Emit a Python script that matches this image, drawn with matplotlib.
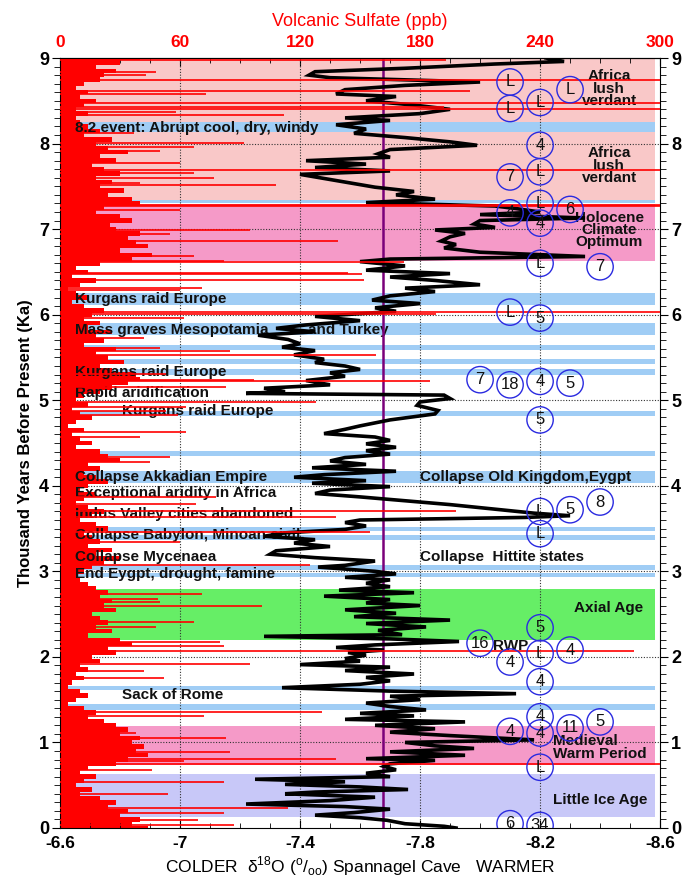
import numpy as np
import matplotlib
matplotlib.use("Agg")
from matplotlib import pyplot as plt
from matplotlib.ticker import MultipleLocator

plt.rcParams['font.family'] = ['Liberation Sans', 'DejaVu Sans']
plt.rcParams['mathtext.fontset'] = 'custom'
plt.rcParams['mathtext.rm'] = 'Liberation Sans'

# Spannagel Cave d18O record (age in ka, d18O in permil)
curve_age = [9.00, 8.96, 8.93, 8.88, 8.84, 8.80, 8.77, 8.72, 8.68, 8.63, 8.58, 8.55, 8.50, 8.45,
             8.40, 8.35, 8.30, 8.27, 8.22, 8.17, 8.12, 8.07, 8.02, 7.98, 7.93, 7.88, 7.84, 7.80,
             7.76, 7.72, 7.68, 7.64, 7.55, 7.49, 7.44, 7.40, 7.35, 7.31, 7.27, 7.24, 7.20, 7.17,
             7.13, 7.10, 7.06, 7.02, 6.99, 6.95, 6.91, 6.86, 6.82, 6.78, 6.73, 6.68, 6.65, 6.62,
             6.57, 6.52, 6.48, 6.44, 6.40, 6.35, 6.31, 6.27, 6.22, 6.17, 6.13, 6.08, 6.04, 6.00,
             5.98, 5.93, 5.88, 5.84, 5.80, 5.76, 5.71, 5.66, 5.62, 5.58, 5.53, 5.48, 5.44, 5.40,
             5.36, 5.32, 5.28, 5.23, 5.18, 5.14, 5.10, 5.08, 5.06, 5.02, 4.98, 4.94, 4.88, 4.84,
             4.77, 4.70, 4.66, 4.61, 4.57, 4.53, 4.49, 4.45, 4.41, 4.37, 4.33, 4.29, 4.25, 4.21,
             4.17, 4.13, 4.10, 4.06, 4.03, 3.99, 3.95, 3.91, 3.87, 3.78, 3.68, 3.65, 3.63, 3.60,
             3.57, 3.53, 3.49, 3.45, 3.41, 3.37, 3.33, 3.29, 3.24, 3.20, 3.16, 3.12, 3.07, 3.05,
             3.00, 2.97, 2.93, 2.90, 2.86, 2.82, 2.78, 2.75, 2.71, 2.67, 2.63, 2.60, 2.55, 2.51,
             2.47, 2.43, 2.39, 2.35, 2.31, 2.26, 2.24, 2.21, 2.18, 2.14, 2.11, 2.08, 2.05, 2.02,
             1.98, 1.95, 1.91, 1.88, 1.84, 1.80, 1.76, 1.72, 1.68, 1.64, 1.60, 1.57, 1.54, 1.50,
             1.46, 1.42, 1.38, 1.34, 1.31, 1.27, 1.24, 1.20, 1.16, 1.12, 1.08, 1.03, 1.00, 0.96,
             0.93, 0.89, 0.85, 0.81, 0.79, 0.75, 0.72, 0.68, 0.64, 0.60, 0.57, 0.54, 0.51, 0.48,
             0.45, 0.42, 0.40, 0.36, 0.32, 0.28, 0.25, 0.22, 0.18, 0.15, 0.12, 0.09, 0.05, 0.02,
             0.00]
curve_d18o = [-8.22, -8.28, -8.05, -7.75, -7.45, -7.43, -7.50, -8.00, -7.75, -7.55, -7.52, -7.72, -7.62, -7.78,
              -7.90, -7.80, -7.55, -7.70, -7.52, -7.62, -7.58, -7.75, -7.90, -7.99, -7.70, -7.66, -7.70, -7.42,
              -7.62, -7.45, -7.70, -7.40, -7.55, -7.65, -7.78, -7.72, -7.85, -7.62, -8.05, -8.12, -8.20, -8.00,
              -8.35, -8.00, -7.98, -8.05, -7.85, -7.95, -7.90, -7.87, -7.92, -7.88, -8.00, -8.35, -7.70, -7.60,
              -7.75, -7.62, -7.90, -7.70, -7.85, -8.00, -7.75, -7.85, -7.70, -7.64, -7.80, -7.65, -7.72, -7.55,
              -7.45, -7.60, -7.42, -7.32, -7.45, -7.26, -7.36, -7.40, -7.34, -7.45, -7.38, -7.48, -7.45, -7.55,
              -7.60, -7.50, -7.55, -7.42, -7.50, -7.28, -7.35, -7.22, -7.88, -7.90, -7.80, -7.79, -7.86, -7.85,
              -7.70, -7.60, -7.55, -7.48, -7.65, -7.70, -7.62, -7.72, -7.62, -7.70, -7.55, -7.50, -7.62, -7.44,
              -7.72, -7.48, -7.38, -7.62, -7.44, -7.70, -7.50, -7.45, -7.60, -7.90, -8.18, -8.30, -8.15, -7.60,
              -7.55, -7.62, -7.55, -7.35, -7.28, -7.45, -7.38, -7.50, -7.32, -7.30, -7.45, -7.65, -7.55, -7.46,
              -7.65, -7.72, -7.55, -7.70, -7.62, -7.70, -7.53, -7.78, -7.48, -7.70, -7.62, -7.80, -7.55, -7.72,
              -7.58, -7.90, -7.62, -7.82, -7.66, -7.74, -7.28, -7.70, -7.93, -7.65, -7.52, -7.68, -7.56, -7.62,
              -7.55, -7.60, -7.40, -7.70, -7.55, -7.78, -7.62, -7.70, -7.60, -7.34, -7.70, -8.12, -7.70, -7.80,
              -7.62, -7.70, -7.82, -7.60, -7.78, -7.55, -7.95, -7.65, -7.85, -7.70, -7.90, -8.18, -7.75, -7.85,
              -7.98, -7.70, -7.95, -7.62, -7.85, -7.70, -7.68, -7.72, -7.62, -7.70, -7.25, -7.55, -7.35, -7.60,
              -7.76, -7.45, -7.35, -7.65, -7.50, -7.22, -7.55, -7.70, -7.58, -7.45, -7.60, -7.69, -7.75, -7.88,
              -7.92]

# volcanic sulfate background level (ppb), every 0.05 ka from 9.0 down to 0.0
sulfate_base = [40, 30, 18, 28, 22, 20, 12, 8, 14, 10, 18, 12, 8, 14, 8, 10, 14, 20, 12, 26, 18,
                24, 34, 20, 28, 16, 22, 30, 18, 26, 20, 32, 24, 36, 40, 22, 18, 30, 36, 25, 28,
                40, 34, 38, 44, 30, 46, 36, 20, 8, 14, 6, 18, 10, 4, 8, 14, 6, 12, 22, 16,
                12, 20, 14, 26, 18, 22, 12, 28, 18, 24, 32, 20, 26, 38, 40, 34, 26, 20, 12, 8,
                14, 6, 10, 16, 8, 4, 12, 6, 10, 16, 8, 20, 24, 30, 14, 20, 12, 18, 24, 14,
                10, 18, 12, 8, 14, 22, 16, 10, 18, 24, 12, 16, 20, 14, 26, 18, 30, 22, 16, 12,
                8, 10, 14, 18, 24, 20, 26, 22, 28, 16, 20, 24, 18, 26, 14, 30, 36, 24, 28, 16,
                20, 10, 14, 8, 12, 6, 4, 10, 14, 8, 4, 12, 18, 14, 22, 28, 34, 30, 40, 36,
                42, 38, 44, 34, 28, 14, 10, 18, 12, 8, 16, 10, 20, 28, 24, 34, 30, 40, 36, 44]
base_age = np.linspace(9.0, 0.0, len(sulfate_base))

# volcanic eruption spikes (age ka, sulfate ppb)
spike_age = [8.98, 8.84, 8.80, 8.74, 8.62, 8.58, 8.48, 8.43, 8.40, 8.37, 8.33, 8.12, 8.01, 7.96,
             7.91, 7.77, 7.69, 7.66, 7.60, 7.54, 7.51, 7.285, 7.27, 7.22, 6.99, 6.94, 6.86, 6.80,
             6.68, 6.63, 6.615, 6.49, 6.47, 6.40, 6.31, 6.29, 6.03, 6.01, 5.96, 5.73, 5.61, 5.58,
             5.53, 5.31, 5.24, 5.22, 5.16, 4.98, 4.92, 4.87, 4.83, 4.63, 4.57, 4.34, 4.28, 3.87,
             3.79, 3.71, 3.63, 3.46, 3.34, 3.07, 2.74, 2.68, 2.64, 2.59, 2.41, 2.35, 2.17, 2.13,
             2.07, 1.92, 1.83, 1.75, 1.36, 1.31, 1.11, 1.05, 0.89, 0.81, 0.78, 0.75, 0.68, 0.54,
             0.40, 0.23, 0.17, 0.09, 0.03]
spike_ppb = [193, 48, 43, 300, 205, 73, 300, 192, 300, 58, 112, 37, 92, 67,
             50, 60, 300, 67, 77, 40, 108, 300, 300, 60, 95, 55, 139, 43,
             67, 82, 172, 144, 151, 152, 71, 60, 300, 188, 62, 42, 50, 85,
             158, 53, 97, 185, 83, 128, 63, 53, 59, 63, 40, 55, 45, 78,
             68, 198, 138, 155, 60, 125, 71, 49, 50, 101, 67, 48, 80, 82,
             287, 95, 42, 52, 131, 72, 38, 83, 85, 138, 62, 300, 46, 82,
             54, 114, 82, 69, 87]

# shaded climate intervals (ka)
light_pink_bands = [(7.34, 9.0)]
pink_bands = [(6.63, 7.29), (0.74, 1.19)]
green_bands = [(2.20, 2.79)]
lavender_bands = [(0.13, 0.63)]
blue_bands = [(8.14, 8.25), (7.30, 7.34), (6.11, 6.25), (5.76, 5.90), (5.59, 5.645), (5.42, 5.48),
              (5.29, 5.36), (4.81, 4.87), (4.35, 4.41), (4.03, 4.17), (3.47, 3.52), (3.37, 3.42),
              (3.02, 3.07), (2.93, 2.98), (1.61, 1.66), (1.38, 1.45)]

# event labels: text, left edge (d18O scale), age
event_text = ["8.2 event: Abrupt cool, dry, windy", "Kurgans raid Europe",
              "Mass graves Mesopotamia", "and Turkey", "Kurgans raid Europe",
              "Rapid aridification", "Kurgans raid Europe", "Collapse Akkadian Empire",
              "Exceptional aridity in Africa", "Indus Valley cities abandoned",
              "Collapse Babylon, Minoan civil.", "Collapse Mycenaea", "End Eygpt, drought, famine",
              "Sack of Rome", "Collapse Old Kingdom,Eygpt", "Collapse  Hittite states", "RWP"]
event_x = [-6.65, -6.65, -6.65, -7.427, -6.65, -6.65, -6.806, -6.65, -6.65, -6.65, -6.65,
           -6.65, -6.65, -6.806, -7.8, -7.8, -8.043]
event_age = [8.18, 6.18, 5.82, 5.82, 5.33, 5.08, 4.87, 4.10, 3.91, 3.67, 3.42, 3.17, 2.97,
             1.56, 4.10, 3.17, 2.13]

# period labels on the right
period_names = ["Africa\nlush\nverdant", "Africa\nlush\nverdant", "Holocene\nClimate\nOptimum",
                "Axial Age"]
period_age = [8.64, 7.74, 6.99, 2.57]
period_names2 = ["Medieval\nWarm Period", "Little Ice Age"]
period_age2 = [0.94, 0.33]

# circled markers: label, column (d18O), age
circle_labels = ["L", "L", "L", "L", "4", "7", "L", "L", "6", "4", "4", "L", "7",
                 "L", "5", "7", "18", "4", "5", "5", "8", "L", "5", "L",
                 "5", "16", "L", "4", "4", "4", "4", "5", "4", "4", "11", "L", "6", "34"]
circle_col = [-8.1, -8.3, -8.1, -8.2, -8.2, -8.1, -8.2, -8.2, -8.3, -8.1, -8.2, -8.2, -8.4,
              -8.1, -8.2, -8.0, -8.1, -8.2, -8.3, -8.2, -8.4, -8.2, -8.3, -8.2,
              -8.2, -8.0, -8.2, -8.3, -8.1, -8.2, -8.2, -8.4, -8.1, -8.2, -8.3, -8.2, -8.1, -8.2]
circle_age = [8.72, 8.63, 8.41, 8.48, 7.98, 7.61, 7.67, 7.30, 7.23, 7.19, 7.07, 6.60, 6.56,
              6.03, 5.96, 5.24, 5.18, 5.22, 5.20, 4.77, 3.81, 3.70, 3.72, 3.44,
              2.34, 2.16, 2.04, 2.08, 1.94, 1.71, 1.30, 1.24, 1.13, 1.11, 1.17, 0.71, 0.05, 0.03]

purple_line = -7.675


def d2ppb(d):
    return (-6.6 - d) * 150.0


def ppb2d(p):
    return -6.6 - p / 150.0


fig = plt.figure(figsize=(6.94, 8.83), dpi=100)
ax = fig.add_axes([0.0865, 0.0623, 0.8646, 0.872])
ax.set_xlim(-6.6, -8.6)
ax.set_ylim(0, 9)

# background bands
for lo, hi in light_pink_bands:
    ax.axhspan(lo, hi, xmax=0.992, color='#f9c8c8', lw=0, zorder=0)
for lo, hi in pink_bands:
    ax.axhspan(lo, hi, xmax=0.992, color='#f59ac8', lw=0, zorder=0)
for lo, hi in green_bands:
    ax.axhspan(lo, hi, xmax=0.992, color='#66ee66', lw=0, zorder=0)
for lo, hi in lavender_bands:
    ax.axhspan(lo, hi, xmax=0.992, color='#c8c8f8', lw=0, zorder=0)
for lo, hi in blue_bands:
    ax.axhspan(lo, hi, xmax=0.992, color='#a0cdf5', lw=0, zorder=0.5)

# dotted grid
for gx in [-7.0, -7.4, -7.8, -8.2]:
    ax.axvline(gx, color='#333333', lw=0.8, ls=(0, (1, 1.5)), zorder=1)
for gy in range(1, 9):
    ax.axhline(gy, color='#333333', lw=0.8, ls=(0, (1, 1.5)), zorder=1)

# sulfate background
ax.barh(base_age, [ppb2d(v) - (-6.6) for v in sulfate_base], left=-6.6, height=0.052,
        color='red', lw=0, zorder=1.5)

# event text
for t, x, a in zip(event_text, event_x, event_age):
    ax.text(x, a, t, fontsize=11, fontweight='bold', color='#111111', va='center', zorder=2)
for t, a in zip(period_names, period_age):
    ax.text(-8.43, a, t, fontsize=11, fontweight='bold', color='#111111', va='center',
            ha='center', linespacing=0.85, zorder=2)
for t, a in zip(period_names2, period_age2):
    ax.text(-8.243, a, t, fontsize=11, fontweight='bold', color='#111111', va='center',
            ha='left', linespacing=0.85, zorder=2)

# purple reference line
ax.axvline(purple_line, color='#7a007a', lw=1.8, zorder=2.5)

# d18O curve
ax.plot(curve_d18o, curve_age, color='black', lw=2.6, solid_joinstyle='miter', zorder=3)

# volcanic spikes
ax.hlines(spike_age, -6.6, [ppb2d(v) for v in spike_ppb], color='red', lw=1.2, zorder=4)

# circles
ax.scatter(circle_col, circle_age, s=360, facecolors='none', edgecolors='#2a2ae0', lw=1.0,
           zorder=5)
for lab, cx, cy in zip(circle_labels, circle_col, circle_age):
    ax.text(cx, cy, lab, fontsize=12, ha='center', va='center', color='#111111', zorder=6,
            clip_on=True)

# axes / ticks
ax.set_xticks([-6.6, -7.0, -7.4, -7.8, -8.2, -8.6])
ax.set_xticklabels(['-6.6', '-7', '-7.4', '-7.8', '-8.2', '-8.6'])
ax.xaxis.set_minor_locator(MultipleLocator(0.1))
ax.yaxis.set_major_locator(MultipleLocator(1))
ax.yaxis.set_minor_locator(MultipleLocator(0.1))
ax.tick_params(axis='x', which='both', direction='in', top=False, labelsize=12.5, pad=6)
ax.tick_params(axis='x', which='major', length=6)
ax.tick_params(axis='x', which='minor', length=3.5)
ax.tick_params(axis='y', which='both', direction='out', left=True, right=True,
               labelleft=True, labelright=True, labelsize=13, pad=2)
ax.tick_params(axis='y', which='major', length=6)
ax.tick_params(axis='y', which='minor', length=4)
for lab in ax.get_xticklabels() + ax.get_yticklabels():
    lab.set_fontweight('bold')

ax.set_xlabel("COLDER  δ$^{18}$O ($^{\\rm o}/_{\\rm oo}$) Spannagel Cave   WARMER",
              fontsize=12.5, labelpad=2)
ax.set_ylabel("Thousand Years Before Present (Ka)", fontsize=12, fontweight='bold', labelpad=4)

top = ax.secondary_xaxis('top', functions=(d2ppb, ppb2d))
top.set_xticks([0, 60, 120, 180, 240, 300])
top.xaxis.set_minor_locator(MultipleLocator(15))
top.tick_params(axis='x', which='both', direction='in', colors='black', labelcolor='red',
                labelsize=12.5, pad=6)
top.tick_params(axis='x', which='major', length=6)
top.tick_params(axis='x', which='minor', length=3.5)
for lab in top.get_xticklabels():
    lab.set_fontweight('bold')
top.set_xlabel("Volcanic Sulfate (ppb)", color='red', fontsize=13, labelpad=6)

fig.savefig("out.png", dpi=100)
